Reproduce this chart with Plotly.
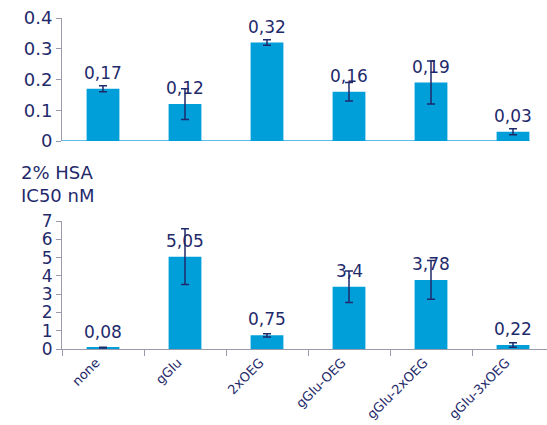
import plotly.graph_objects as go

categories = ["none", "gGlu", "2xOEG", "gGlu-OEG", "gGlu-2xOEG", "gGlu-3xOEG"]
top_values = [0.17, 0.12, 0.32, 0.16, 0.19, 0.03]
top_errors = [0.01, 0.05, 0.009, 0.03, 0.07, 0.01]
bottom_values = [0.08, 5.05, 0.75, 3.4, 3.78, 0.22]
bottom_errors = [0.02, 1.52, 0.09, 0.86, 1.06, 0.12]
top_ticks = [0, 0.1, 0.2, 0.3, 0.4]
top_tick_text = ["0", "0.1", "0.2", "0.3", "0.4"]
bottom_ticks = [0, 1, 2, 3, 4, 5, 6, 7]

BAR = "#009FDA"
NAVY = "#1F2A6B"
GREY = "#9A9AAA"
FONT = "DejaVu Sans"

def lbl(v):
    return f"{v:g}".replace(".", ",")

H = 425.0
def py(p):
    return 1 - p / H

fig = go.Figure()
fig.add_trace(go.Bar(x=categories, y=top_values, width=0.4, marker_color=BAR,
                     marker_line_width=0,
                     error_y=dict(type="data", array=top_errors, color=NAVY, thickness=1.5, width=4),
                     xaxis="x", yaxis="y", showlegend=False))
fig.add_trace(go.Bar(x=categories, y=bottom_values, width=0.4, marker_color=BAR,
                     marker_line_width=0,
                     error_y=dict(type="data", array=bottom_errors, color=NAVY, thickness=1.5, width=4),
                     xaxis="x2", yaxis="y2", showlegend=False))

annotations = []
for c, v in zip(categories, top_values):
    annotations.append(dict(x=c, y=v, xref="x", yref="y", text=lbl(v), showarrow=False,
                            yshift=16, font=dict(family=FONT, size=17, color=NAVY)))
for c, v in zip(categories, bottom_values):
    annotations.append(dict(x=c, y=v, xref="x2", yref="y2", text=lbl(v), showarrow=False,
                            yshift=16, font=dict(family=FONT, size=17, color=NAVY)))
annotations.append(dict(x=-43 / 485.0, y=py(184), xref="paper", yref="paper",
                        text="2% HSA<br>IC50 nM", showarrow=False, xanchor="left",
                        yanchor="middle", align="left",
                        font=dict(family=FONT, size=18, color=NAVY)))

xr = [-0.5, -0.5 + 485 / 82.0]

fig.update_layout(
    width=547, height=425,
    margin=dict(l=62, r=0, t=0, b=0),
    paper_bgcolor="white", plot_bgcolor="white",
    font=dict(family=FONT, color=NAVY),
    xaxis=dict(domain=[0, 1], anchor="y", range=xr, showticklabels=False, showline=False,
               ticks="", showgrid=False, zeroline=False, automargin=False),
    yaxis=dict(domain=[py(141), py(18)], anchor="x", range=[0, 0.4], tickvals=top_ticks,
               ticktext=top_tick_text,
               showline=True, linecolor=GREY, linewidth=1, ticks="outside", ticklen=5,
               tickcolor=GREY, showgrid=False, zeroline=False,
               tickfont=dict(family=FONT, size=18, color=NAVY), automargin=False),
    xaxis2=dict(domain=[0, 1], anchor="y2", range=xr, showline=True, linecolor=GREY, linewidth=1,
                ticks="outside", tickson="boundaries", ticklen=6, tickcolor=GREY,
                tickangle=-45, ticklabelshift=-7, showgrid=False, zeroline=False,
                tickfont=dict(family=FONT, size=13, color=NAVY), automargin=False),
    yaxis2=dict(domain=[py(349), py(221)], anchor="x2", range=[0, 7], tickvals=bottom_ticks,
                showline=True, linecolor=GREY, linewidth=1, ticks="outside", ticklen=5,
                tickcolor=GREY, showgrid=False, zeroline=False,
                tickfont=dict(family=FONT, size=17, color=NAVY), automargin=False),
    annotations=annotations,
    shapes=[dict(type="line", xref="x", yref="y", x0=-0.5, x1=5.2, y0=0, y1=0,
                 line=dict(color="#5BBDE8", width=2), layer="below")],
)

fig.write_html("out.html")
